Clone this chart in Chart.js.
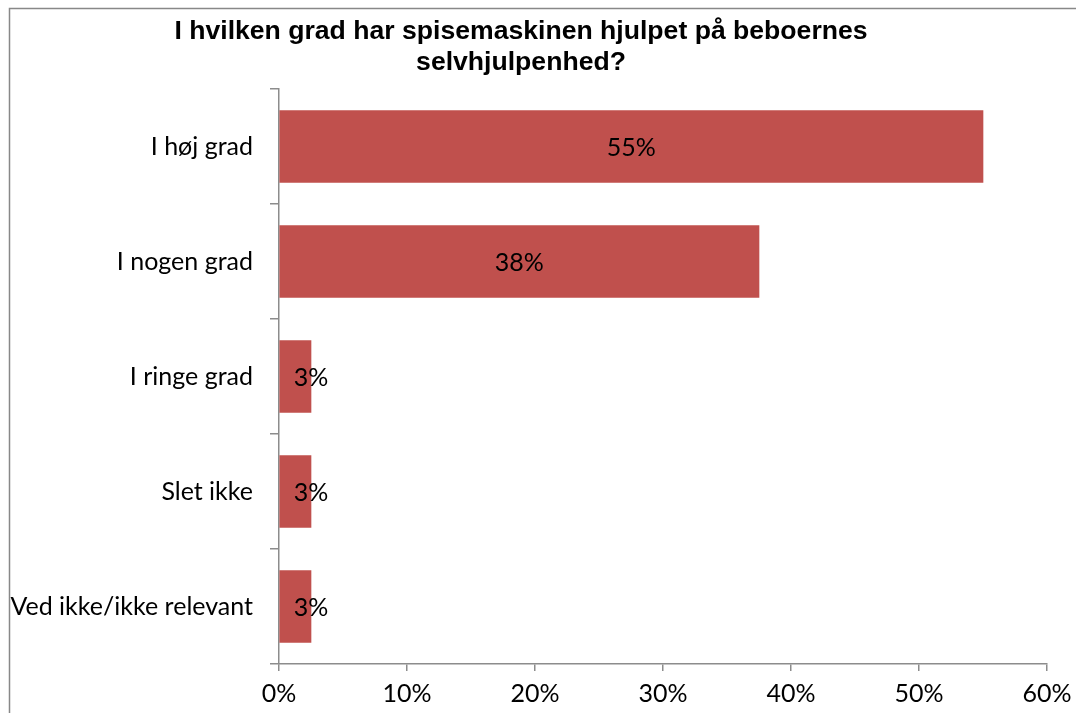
<!DOCTYPE html>
<html>
<head>
<meta charset="utf-8">
<script src="https://cdn.jsdelivr.net/npm/chart.js@4/dist/chart.umd.min.js"></script>
<style>
html,body{margin:0;padding:0;background:#fff;}
#wrap{width:1076px;height:713px;position:relative;}
</style>
</head>
<body>
<div id="wrap"><canvas id="c" width="1076" height="713"></canvas></div>
<script>
const titleLines = ["I hvilken grad har spisemaskinen hjulpet på beboernes", "selvhjulpenhed?"];
const categories = ["I høj grad", "I nogen grad", "I ringe grad", "Slet ikke", "Ved ikke/ikke relevant"];
const values = [55, 37.5, 2.5, 2.5, 2.5];
const valueLabels = ["55%", "38%", "3%", "3%", "3%"];
const xTicks = [0, 10, 20, 30, 40, 50, 60];

const LABEL_FONT = "Lato";
const AXIS_COLOR = "#8c8c8c";

const framePlugin = {
  id: 'frame',
  beforeDraw(chart) {
    const ctx = chart.ctx;
    ctx.save();
    ctx.fillStyle = '#fff';
    ctx.fillRect(0, 0, chart.width, chart.height);
    ctx.strokeStyle = '#888';
    ctx.lineWidth = 1.5;
    ctx.strokeRect(9.5, 8.5, 1200, 1200);
    ctx.restore();
  }
};

const titlePlugin = {
  id: 'customTitle',
  afterDraw(chart) {
    const ctx = chart.ctx;
    ctx.save();
    ctx.fillStyle = '#000';
    ctx.font = "bold 26.6px 'Liberation Sans', Arial, sans-serif";
    ctx.textAlign = 'center';
    ctx.textBaseline = 'middle';
    ctx.fillText(titleLines[0], 521, 32);
    ctx.fillText(titleLines[1], 521, 63);
    ctx.restore();
  }
};

const dataLabelPlugin = {
  id: 'dataLabels',
  afterDatasetsDraw(chart) {
    const ctx = chart.ctx;
    const meta = chart.getDatasetMeta(0);
    ctx.save();
    ctx.fillStyle = '#000';
    ctx.font = "25px " + LABEL_FONT + ", sans-serif";
    ctx.textBaseline = 'middle';
    ctx.textAlign = 'center';
    meta.data.forEach((bar, i) => {
      const t = valueLabels[i];
      const tw = ctx.measureText(t).width;
      const w = bar.x - bar.base;
      let cx = (bar.x + bar.base) / 2;
      if (tw > w) cx = bar.base + 14 + tw / 2;
      ctx.fillText(t, cx, bar.y + 1);
    });
    ctx.restore();
  }
};

new Chart(document.getElementById('c'), {
  type: 'bar',
  data: {
    labels: categories,
    datasets: [{
      data: values,
      backgroundColor: '#C0504D',
      borderWidth: 0,
      barThickness: 72
    }]
  },
  options: {
    indexAxis: 'y',
    responsive: false,
    animation: false,
    devicePixelRatio: 1,
    layout: { padding: { top: 89, left: 0, right: 29, bottom: 0 } },
    plugins: {
      legend: { display: false },
      title: { display: false },
      tooltip: { enabled: false }
    },
    scales: {
      x: {
        min: 0, max: 60,
        afterBuildTicks(scale) { scale.ticks = xTicks.map(v => ({ value: v })); },
        afterFit(scale) { scale.height = 49; scale.paddingRight = 0; scale.paddingLeft = 0; },
        ticks: {
          callback: v => v + '%',
          color: '#000',
          font: { family: LABEL_FONT, size: 25 },
          padding: 8,
          maxRotation: 0,
          autoSkip: false
        },
        grid: { drawOnChartArea: false, tickLength: 7, color: AXIS_COLOR, lineWidth: 1.5 },
        border: { color: AXIS_COLOR, width: 1.5 }
      },
      y: {
        afterFit(scale) { scale.width = 279; scale.paddingTop = 0; scale.paddingBottom = 0; },
        ticks: {
          color: '#000',
          font: { family: LABEL_FONT, size: 25 },
          padding: 17
        },
        grid: { drawOnChartArea: false, tickLength: 9, color: AXIS_COLOR, lineWidth: 1.5, offset: true },
        border: { color: AXIS_COLOR, width: 1.5 }
      }
    }
  },
  plugins: [framePlugin, titlePlugin, dataLabelPlugin]
});
</script>
</body>
</html>
